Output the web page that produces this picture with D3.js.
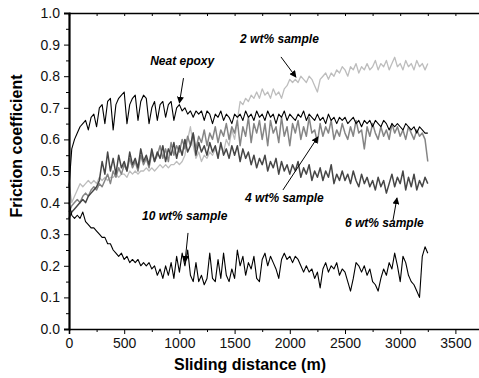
<!DOCTYPE html>
<html>
<head>
<meta charset="utf-8">
<script src="https://cdn.jsdelivr.net/npm/d3@7"></script>
<style>
  body { margin: 0; background: #fff; }
  svg { display: block; }
</style>
</head>
<body>
<script>
// sampling grid of the curves (m), one value every 25 m
const distStep = 25;

// friction coefficient, rows of 10 samples (250 m each)
const epoxy2 = [
  0.46,0.40,0.42,0.44,0.46,0.45,0.46,0.47,0.46,0.47,
  0.46,0.48,0.47,0.48,0.47,0.48,0.48,0.49,0.48,0.49,
  0.49,0.48,0.50,0.49,0.50,0.49,0.50,0.50,0.51,0.50,
  0.51,0.50,0.51,0.52,0.51,0.52,0.51,0.52,0.52,0.53,
  0.52,0.53,0.55,0.60,0.64,0.58,0.54,0.56,0.53,0.55,
  0.54,0.56,0.55,0.57,0.55,0.58,0.56,0.60,0.58,0.63,
  0.60,0.66,0.72,0.71,0.73,0.72,0.74,0.73,0.75,0.73,
  0.76,0.74,0.75,0.73,0.76,0.74,0.75,0.73,0.76,0.77,
  0.79,0.78,0.79,0.78,0.80,0.79,0.78,0.80,0.79,0.77,
  0.75,0.79,0.80,0.81,0.79,0.81,0.80,0.82,0.81,0.83,
  0.82,0.80,0.83,0.82,0.84,0.81,0.83,0.82,0.84,0.82,
  0.83,0.85,0.82,0.84,0.83,0.85,0.82,0.84,0.86,0.83,
  0.84,0.82,0.85,0.83,0.84,0.82,0.85,0.83,0.84,0.82,
  0.84
];
const epoxy4 = [
  0.37,0.39,0.40,0.41,0.40,0.42,0.43,0.42,0.44,0.45,
  0.44,0.46,0.45,0.47,0.49,0.46,0.50,0.48,0.51,0.49,
  0.52,0.50,0.54,0.51,0.53,0.50,0.55,0.52,0.54,0.51,
  0.56,0.53,0.55,0.58,0.54,0.57,0.53,0.59,0.55,0.58,
  0.56,0.60,0.57,0.61,0.58,0.62,0.57,0.61,0.59,0.63,
  0.58,0.62,0.60,0.64,0.59,0.63,0.61,0.65,0.60,0.64,
  0.62,0.66,0.58,0.64,0.61,0.67,0.59,0.65,0.62,0.66,
  0.60,0.65,0.58,0.66,0.62,0.64,0.59,0.67,0.61,0.64,
  0.58,0.65,0.62,0.66,0.60,0.64,0.61,0.67,0.62,0.63,
  0.59,0.65,0.61,0.64,0.62,0.66,0.60,0.63,0.61,0.65,
  0.62,0.60,0.64,0.61,0.66,0.62,0.63,0.57,0.64,0.61,
  0.65,0.62,0.60,0.64,0.61,0.63,0.60,0.65,0.62,0.64,
  0.61,0.63,0.60,0.64,0.62,0.60,0.63,0.61,0.62,0.60,
  0.53
];
const epoxy6 = [
  0.35,0.37,0.38,0.39,0.40,0.41,0.40,0.42,0.43,0.44,
  0.45,0.47,0.53,0.49,0.56,0.50,0.54,0.49,0.55,0.51,
  0.53,0.50,0.56,0.52,0.54,0.51,0.57,0.53,0.55,0.52,
  0.57,0.53,0.56,0.54,0.58,0.53,0.57,0.55,0.59,0.54,
  0.58,0.55,0.60,0.56,0.58,0.62,0.55,0.59,0.56,0.58,
  0.55,0.59,0.56,0.58,0.54,0.59,0.55,0.57,0.54,0.58,
  0.55,0.58,0.53,0.57,0.54,0.56,0.52,0.55,0.51,0.54,
  0.52,0.55,0.50,0.53,0.51,0.54,0.49,0.53,0.50,0.52,
  0.49,0.52,0.50,0.53,0.48,0.51,0.49,0.52,0.47,0.50,
  0.48,0.51,0.47,0.50,0.48,0.52,0.46,0.49,0.47,0.50,
  0.47,0.49,0.46,0.50,0.47,0.45,0.49,0.46,0.48,0.45,
  0.47,0.44,0.48,0.45,0.47,0.43,0.46,0.49,0.45,0.48,
  0.46,0.50,0.44,0.48,0.45,0.49,0.44,0.47,0.45,0.48,
  0.46
];
const neatEpoxy = [
  0.45,0.57,0.60,0.62,0.64,0.65,0.66,0.63,0.67,0.68,
  0.64,0.70,0.71,0.65,0.72,0.73,0.63,0.71,0.73,0.74,
  0.75,0.65,0.71,0.73,0.74,0.66,0.72,0.74,0.73,0.65,
  0.70,0.72,0.66,0.71,0.72,0.67,0.71,0.72,0.66,0.70,
  0.71,0.69,0.70,0.68,0.69,0.67,0.69,0.68,0.69,0.66,
  0.69,0.68,0.65,0.68,0.67,0.69,0.66,0.68,0.67,0.65,
  0.68,0.67,0.68,0.66,0.69,0.67,0.68,0.66,0.69,0.67,
  0.68,0.66,0.69,0.67,0.68,0.65,0.68,0.67,0.69,0.66,
  0.68,0.67,0.66,0.68,0.67,0.69,0.66,0.68,0.67,0.66,
  0.68,0.66,0.67,0.65,0.68,0.66,0.67,0.65,0.67,0.66,
  0.67,0.65,0.66,0.67,0.65,0.66,0.64,0.66,0.65,0.66,
  0.64,0.66,0.65,0.64,0.66,0.65,0.63,0.65,0.64,0.65,
  0.64,0.63,0.65,0.64,0.63,0.64,0.62,0.64,0.63,0.62,
  0.62
];
const epoxy10 = [
  0.40,0.36,0.35,0.36,0.35,0.37,0.34,0.33,0.32,0.32,
  0.31,0.30,0.29,0.29,0.27,0.27,0.25,0.24,0.23,0.24,
  0.22,0.23,0.21,0.22,0.21,0.22,0.20,0.21,0.20,0.21,
  0.19,0.20,0.17,0.19,0.16,0.20,0.17,0.21,0.16,0.23,
  0.18,0.24,0.20,0.25,0.17,0.15,0.21,0.15,0.17,0.14,
  0.16,0.24,0.16,0.15,0.22,0.16,0.24,0.17,0.15,0.19,
  0.16,0.25,0.20,0.23,0.17,0.21,0.19,0.23,0.16,0.15,
  0.22,0.24,0.20,0.23,0.21,0.19,0.16,0.22,0.24,0.22,
  0.23,0.21,0.23,0.22,0.20,0.18,0.20,0.18,0.19,0.16,
  0.18,0.13,0.19,0.21,0.18,0.20,0.19,0.21,0.17,0.19,
  0.18,0.15,0.12,0.16,0.21,0.20,0.18,0.20,0.17,0.19,
  0.15,0.14,0.12,0.16,0.19,0.17,0.21,0.19,0.24,0.20,
  0.15,0.23,0.21,0.17,0.15,0.14,0.12,0.10,0.23,0.26,
  0.24
];

const xTicks = [0, 500, 1000, 1500, 2000, 2500, 3000, 3500];
const yTicks = [0.0, 0.1, 0.2, 0.3, 0.4, 0.5, 0.6, 0.7, 0.8, 0.9, 1.0];

// drawing order: light first, the black curves on top
const seriesList = [
  { name: "2 wt% sample", values: epoxy2, color: "#bdbdbd", w: 1.3 },
  { name: "4 wt% sample", values: epoxy4, color: "#858585", w: 1.5 },
  { name: "6 wt% sample", values: epoxy6, color: "#464646", w: 1.5 },
  { name: "Neat epoxy", values: neatEpoxy, color: "#000000", w: 1.1 },
  { name: "10 wt% sample", values: epoxy10, color: "#000000", w: 1.1 }
];

// annotation text and arrow (tail -> tip), in data units
const notes = [
  { text: "Neat epoxy",   tx: 735,  ty: 0.835, from: [1037, 0.794], to: [1000, 0.715] },
  { text: "2 wt% sample", tx: 1550, ty: 0.905, from: [1920, 0.861], to: [2056, 0.797] },
  { text: "4 wt% sample", tx: 1595, ty: 0.403, from: [1938, 0.440], to: [2255, 0.608] },
  { text: "6 wt% sample", tx: 2500, ty: 0.323, from: [2935, 0.345], to: [2971, 0.415] },
  { text: "10 wt% sample", tx: 661, ty: 0.345, from: [1078, 0.304], to: [1051, 0.212] }
];

const width = 479;
const height = 378;
const marginLeft = 69;
const marginTop = 13;
const plotBottom = 329;

const svg = d3.select("body").append("svg")
  .attr("width", width)
  .attr("height", height)
  .style("font-family", "Liberation Sans, Arial, sans-serif");

const x = d3.scaleLinear().domain([0, 3750]).range([marginLeft, marginLeft + 3750 * 0.1104]);
const y = d3.scaleLinear().domain([0, 1]).range([plotBottom, marginTop]);

const minorX = d3.range(250, 3750, 500);
const minorY = d3.range(0.05, 1, 0.1);

// curves
const line = d3.line()
  .x((d, i) => x(i * distStep))
  .y(d => y(d));

seriesList.forEach(s => {
  svg.append("path")
    .datum(s.values)
    .attr("fill", "none")
    .attr("stroke", s.color)
    .attr("stroke-width", s.w)
    .attr("stroke-linejoin", "round")
    .attr("d", line);
});

// bottom axis
const xAxis = svg.append("g")
  .attr("transform", "translate(0," + plotBottom + ")")
  .call(d3.axisBottom(x).tickValues(xTicks).tickSize(5).tickPadding(4).tickFormat(d3.format("d")));
xAxis.select(".domain").attr("stroke-width", 1.6);
xAxis.selectAll("text").attr("font-size", "14px").attr("fill", "#111");
svg.append("g")
  .attr("transform", "translate(0," + plotBottom + ")")
  .call(d3.axisBottom(x).tickValues(minorX).tickSize(3).tickFormat(""))
  .select(".domain").remove();

// top frame with inward ticks
const topAxis = svg.append("g")
  .attr("transform", "translate(0," + marginTop + ")")
  .call(d3.axisBottom(x).tickValues(xTicks.concat(minorX)).tickSize(3).tickFormat(""));
topAxis.select(".domain").attr("stroke-width", 1.4);

// left axis
const yAxis = svg.append("g")
  .attr("transform", "translate(" + marginLeft + ",0)")
  .call(d3.axisLeft(y).tickValues(yTicks).tickSize(5).tickPadding(4).tickFormat(d3.format(".1f")));
yAxis.select(".domain").attr("stroke-width", 2.2);
yAxis.selectAll("text").attr("font-size", "14px").attr("fill", "#111");
svg.append("g")
  .attr("transform", "translate(" + marginLeft + ",0)")
  .call(d3.axisLeft(y).tickValues(minorY).tickSize(3).tickFormat(""))
  .select(".domain").remove();

// axis titles
svg.append("text")
  .attr("x", 250)
  .attr("y", 370)
  .attr("text-anchor", "middle")
  .attr("font-size", "16px")
  .attr("font-weight", "bold")
  .text("Sliding distance (m)");

svg.append("text")
  .attr("transform", "translate(22,146) rotate(-90)")
  .attr("text-anchor", "middle")
  .attr("font-size", "16px")
  .attr("font-weight", "bold")
  .text("Friction coefficient");

// arrows and labels
svg.append("defs").append("marker")
  .attr("id", "head")
  .attr("viewBox", "0 0 10 10")
  .attr("refX", 9)
  .attr("refY", 5)
  .attr("markerWidth", 7)
  .attr("markerHeight", 7)
  .attr("markerUnits", "userSpaceOnUse")
  .attr("orient", "auto")
  .append("path")
  .attr("d", "M0,0 L10,5 L0,10 z")
  .attr("fill", "#000");

notes.forEach(n => {
  svg.append("text")
    .attr("x", x(n.tx))
    .attr("y", y(n.ty))
    .attr("font-size", "12px")
    .attr("font-weight", "bold")
    .attr("font-style", "italic")
    .text(n.text);
  svg.append("line")
    .attr("x1", x(n.from[0]))
    .attr("y1", y(n.from[1]))
    .attr("x2", x(n.to[0]))
    .attr("y2", y(n.to[1]))
    .attr("stroke", "#000")
    .attr("stroke-width", 1)
    .attr("marker-end", "url(#head)");
});
</script>
</body>
</html>
